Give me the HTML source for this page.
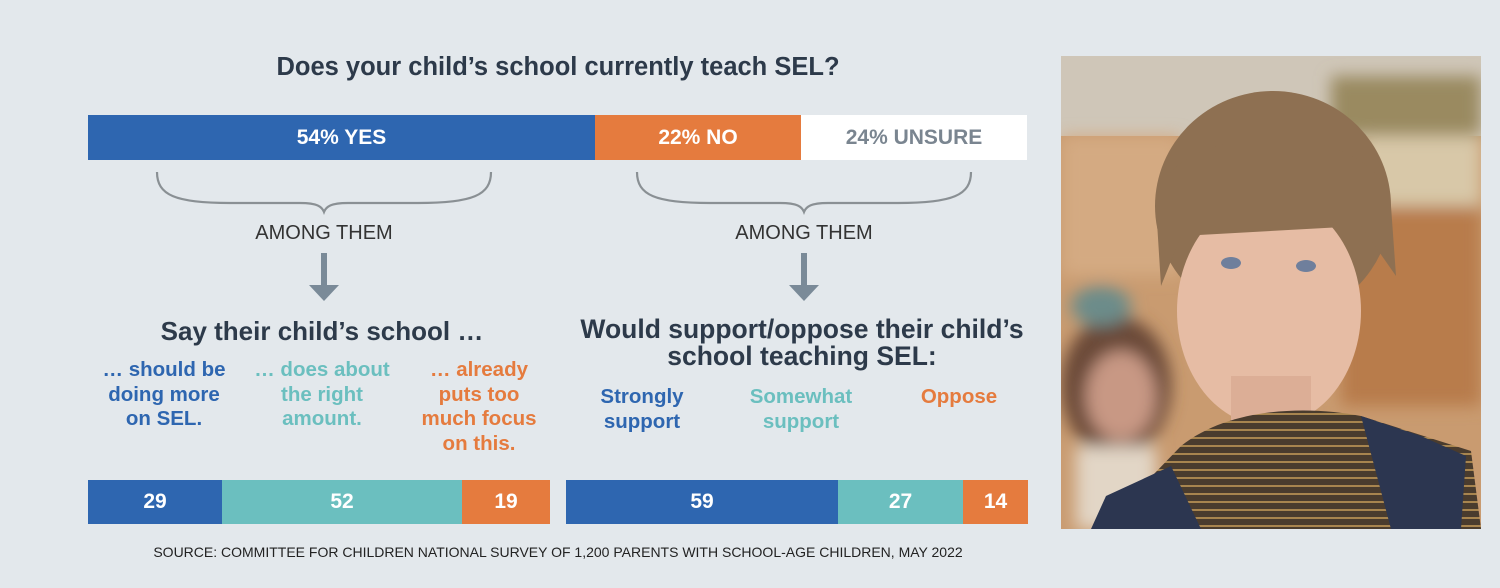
<!DOCTYPE html>
<html><head><meta charset="utf-8"><style>
body{margin:0;width:1500px;height:588px;background:#e3e8ec;font-family:"Liberation Sans",sans-serif;position:relative;overflow:hidden;color:#2d3a4a}
.a{position:absolute;white-space:nowrap}
.c{transform:translateX(-50%);text-align:center}
.b{font-weight:bold}
.bar{position:absolute;display:flex;align-items:center;justify-content:center;color:#fff;font-weight:bold;font-size:21px}
.lab{font-weight:bold;font-size:20.5px;line-height:24.5px}
</style></head><body>
<div class="a c b" style="left:558px;top:53px;font-size:25.5px">Does your child’s school currently teach SEL?</div>
<div class="bar" style="left:88px;top:115px;width:507px;height:45px;background:#2e66b0">54% YES</div>
<div class="bar" style="left:595px;top:115px;width:206px;height:45px;background:#e57b3e">22% NO</div>
<div class="bar" style="left:801px;top:115px;width:226px;height:45px;background:#fff;color:#7a8590">24% UNSURE</div>
<svg class="a" style="left:0;top:0" width="1050" height="588">
<g fill="none" stroke="#8a9094" stroke-width="2.2">
<path d="M157 172 C157 195,175 203,230 203 L300 203 C318 203,322 207,324 212 C326 207,330 203,348 203 L418 203 C473 203,491 195,491 172"/>
<path d="M637 172 C637 195,655 203,710 203 L780 203 C798 203,802 207,804 212 C806 207,810 203,828 203 L898 203 C953 203,971 195,971 172"/>
</g>
<g fill="#7a8a98"><rect x="321" y="253" width="6" height="33"/><path d="M309 285 L339 285 L324 301Z"/>
<rect x="801" y="253" width="6" height="33"/><path d="M789 285 L819 285 L804 301Z"/></g>
</svg>
<div class="a c" style="left:324px;top:222px;font-size:20px;color:#333">AMONG THEM</div>
<div class="a c" style="left:804px;top:222px;font-size:20px;color:#333">AMONG THEM</div>
<div class="a c b" style="left:322px;top:316px;font-size:26px">Say their child’s school …</div>
<div class="a c b" style="left:802px;top:316px;font-size:26.5px;line-height:27px">Would support/oppose their child’s<br>school teaching SEL:</div>
<div class="a c lab" style="left:164px;top:358px;color:#2e66b0">… should be<br>doing more<br>on SEL.</div>
<div class="a c lab" style="left:322px;top:358px;color:#6bbfbf">… does about<br>the right<br>amount.</div>
<div class="a c lab" style="left:479px;top:358px;color:#e57b3e">… already<br>puts too<br>much focus<br>on this.</div>
<div class="a c lab" style="left:642px;top:385px;color:#2e66b0">Strongly<br>support</div>
<div class="a c lab" style="left:801px;top:385px;color:#6bbfbf">Somewhat<br>support</div>
<div class="a c lab" style="left:959px;top:385px;color:#e57b3e">Oppose</div>
<div class="bar" style="left:88px;top:480px;width:134px;height:44px;background:#2e66b0">29</div>
<div class="bar" style="left:222px;top:480px;width:240px;height:44px;background:#6bbfbf">52</div>
<div class="bar" style="left:462px;top:480px;width:88px;height:44px;background:#e57b3e">19</div>
<div class="bar" style="left:566px;top:480px;width:272px;height:44px;background:#2e66b0">59</div>
<div class="bar" style="left:838px;top:480px;width:125px;height:44px;background:#6bbfbf">27</div>
<div class="bar" style="left:963px;top:480px;width:65px;height:44px;background:#e57b3e">14</div>
<div class="a c" style="left:558px;top:544px;font-size:14px;color:#222">SOURCE: COMMITTEE FOR CHILDREN NATIONAL SURVEY OF 1,200 PARENTS WITH SCHOOL-AGE CHILDREN, MAY 2022</div>
<svg class="a" style="left:1061px;top:56px" width="420" height="473">
<defs><filter id="bl"><feGaussianBlur stdDeviation="8"/></filter><pattern id="st" width="10" height="8" patternUnits="userSpaceOnUse"><rect width="10" height="8" fill="#4a3c2e"/><rect y="5" width="10" height="2" fill="#a8854f"/></pattern></defs>
<rect width="420" height="473" fill="#c99b70"/>
<rect width="420" height="80" fill="#cfc6b8"/>
<g filter="url(#bl)">
<rect x="270" y="20" width="150" height="60" fill="#9a8a60"/>
<rect x="300" y="80" width="120" height="80" fill="#d8c8a8"/>
<rect x="280" y="150" width="140" height="200" fill="#b87c4c"/>
<rect x="0" y="80" width="120" height="140" fill="#d4aa82"/>
<ellipse cx="55" cy="330" rx="55" ry="70" fill="#6a4a38"/>
<ellipse cx="60" cy="340" rx="35" ry="45" fill="#c89884"/>
<rect x="15" y="390" width="80" height="83" fill="#e2d6c6"/>
<ellipse cx="40" cy="250" rx="30" ry="20" fill="#6c8c8a"/>
</g>
<ellipse cx="212" cy="150" rx="118" ry="115" fill="#8e7052"/>
<ellipse cx="208" cy="255" rx="92" ry="115" fill="#e6bca4"/>
<path d="M95 150 C100 60,320 60,330 150 L335 220 L300 170 L120 180 L100 230Z" fill="#8e7052"/>
<ellipse cx="170" cy="207" rx="10" ry="6" fill="#6f7f9c"/>
<ellipse cx="245" cy="210" rx="10" ry="6" fill="#6f7f9c"/>
<rect x="170" y="320" width="80" height="50" fill="#dcae96"/>
<path d="M40 473 L120 390 C170 350,250 350,300 360 L410 395 L420 473Z" fill="url(#st)"/>
<path d="M30 473 L45 440 L110 410 L140 473Z" fill="#2c3650"/>
<path d="M300 360 L360 380 L405 400 L400 473 L330 473Z" fill="#2c3650"/>
</svg>
</body></html>
